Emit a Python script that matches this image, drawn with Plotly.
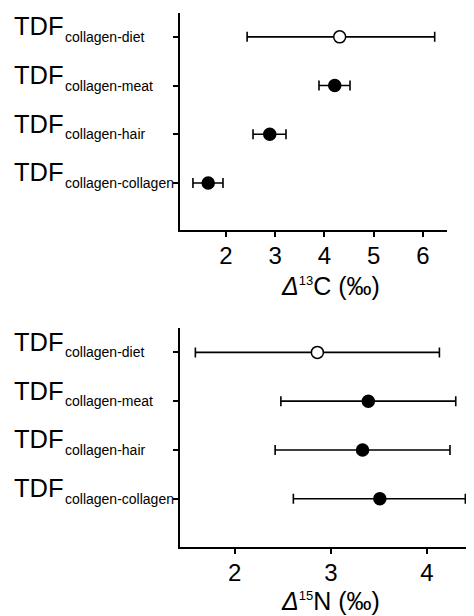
import plotly.graph_objects as go

categories = ["collagen-collagen", "collagen-hair", "collagen-meat", "collagen-diet"]
open_marker = [False, False, False, True]

c_mean = [1.64, 2.89, 4.21, 4.31]
c_low = [1.33, 2.55, 3.89, 2.43]
c_high = [1.94, 3.22, 4.52, 6.24]

n_mean = [3.51, 3.33, 3.39, 2.86]
n_low = [2.61, 2.42, 2.48, 1.59]
n_high = [4.40, 4.24, 4.30, 4.13]

c_ticks = [2, 3, 4, 5, 6]
n_ticks = [2, 3, 4]

c_title = "<i>Δ</i><sup><span style='font-size:13px'>13</span></sup>C (‰)"
n_title = "<i>Δ</i><sup><span style='font-size:13px'>15</span></sup>N (‰)"

FONT = "Liberation Sans, Arial, sans-serif"

fig = go.Figure()

def add_panel(fig, mean, low, high, xaxis, yaxis):
    plus = [h - m for h, m in zip(high, mean)]
    minus = [m - l for m, l in zip(mean, low)]
    fig.add_trace(go.Scatter(
        x=mean, y=categories, mode="markers",
        xaxis=xaxis, yaxis=yaxis,
        error_x=dict(type="data", symmetric=False, array=plus, arrayminus=minus,
                     color="black", thickness=1.6, width=5),
        marker=dict(size=12,
                    color=["white" if o else "black" for o in open_marker],
                    line=dict(color="black", width=1.5)),
        showlegend=False, cliponaxis=False,
    ))

add_panel(fig, c_mean, c_low, c_high, "x", "y")
add_panel(fig, n_mean, n_low, n_high, "x2", "y2")

# the page body has an 8px margin, so the figure starts at (8, 8) in the window
OFF = 8.0
W = 474.0 - OFF
H = 616.0 - OFF

def px_x(p):
    return (p - OFF) / W

def px_y(p):
    return (H - (p - OFF)) / H

axis_common = dict(showline=True, linecolor="black", linewidth=2, ticks="outside",
                   ticklen=5, tickwidth=1.5, tickcolor="black", showgrid=False,
                   zeroline=False, mirror=False, automargin=False)

fig.update_layout(
    width=int(W), height=int(H),
    margin=dict(l=0, r=0, t=0, b=0, autoexpand=False),
    paper_bgcolor="white", plot_bgcolor="white",
    font=dict(family=FONT, color="black"),
    xaxis=dict(domain=[px_x(180), px_x(447)], range=[1.067, 6.49], tickvals=c_ticks,
               tickfont=dict(size=24), anchor="y", ticklabelstandoff=-2,
               **axis_common),
    yaxis=dict(domain=[px_y(230), px_y(13)], type="category",
               categoryarray=categories, range=[-0.966, 3.49], showticklabels=False,
               anchor="x", **axis_common),
    xaxis2=dict(domain=[px_x(180), 1.0], range=[1.43, 4.49], tickvals=n_ticks,
                tickfont=dict(size=24), anchor="y2", ticklabelstandoff=-2,
                **axis_common),
    yaxis2=dict(domain=[px_y(547), px_y(328)], type="category",
                categoryarray=categories, range=[-0.99, 3.5], showticklabels=False,
                anchor="x2", **axis_common),
)

annotations = []
for yref in ["y", "y2"]:
    for cat in categories:
        annotations.append(dict(
            x=px_x(12), xref="paper", y=cat, yref=yref,
            xanchor="left", yanchor="middle", yshift=10.5, showarrow=False,
            text="TDF", font=dict(size=25.5, family=FONT, color="black"),
        ))
        annotations.append(dict(
            x=px_x(63), xref="paper", y=cat, yref=yref,
            xanchor="left", yanchor="middle", yshift=0, showarrow=False,
            text=cat, font=dict(size=14, family=FONT, color="black"),
        ))

for text, cy in [(c_title, 286), (n_title, 601)]:
    annotations.append(dict(
        x=px_x(330), xref="paper", y=px_y(cy), yref="paper",
        xanchor="center", yanchor="middle", showarrow=False,
        text=text, font=dict(size=25, family=FONT, color="black"),
    ))
fig.update_layout(annotations=annotations)

fig.write_html("out.html")
